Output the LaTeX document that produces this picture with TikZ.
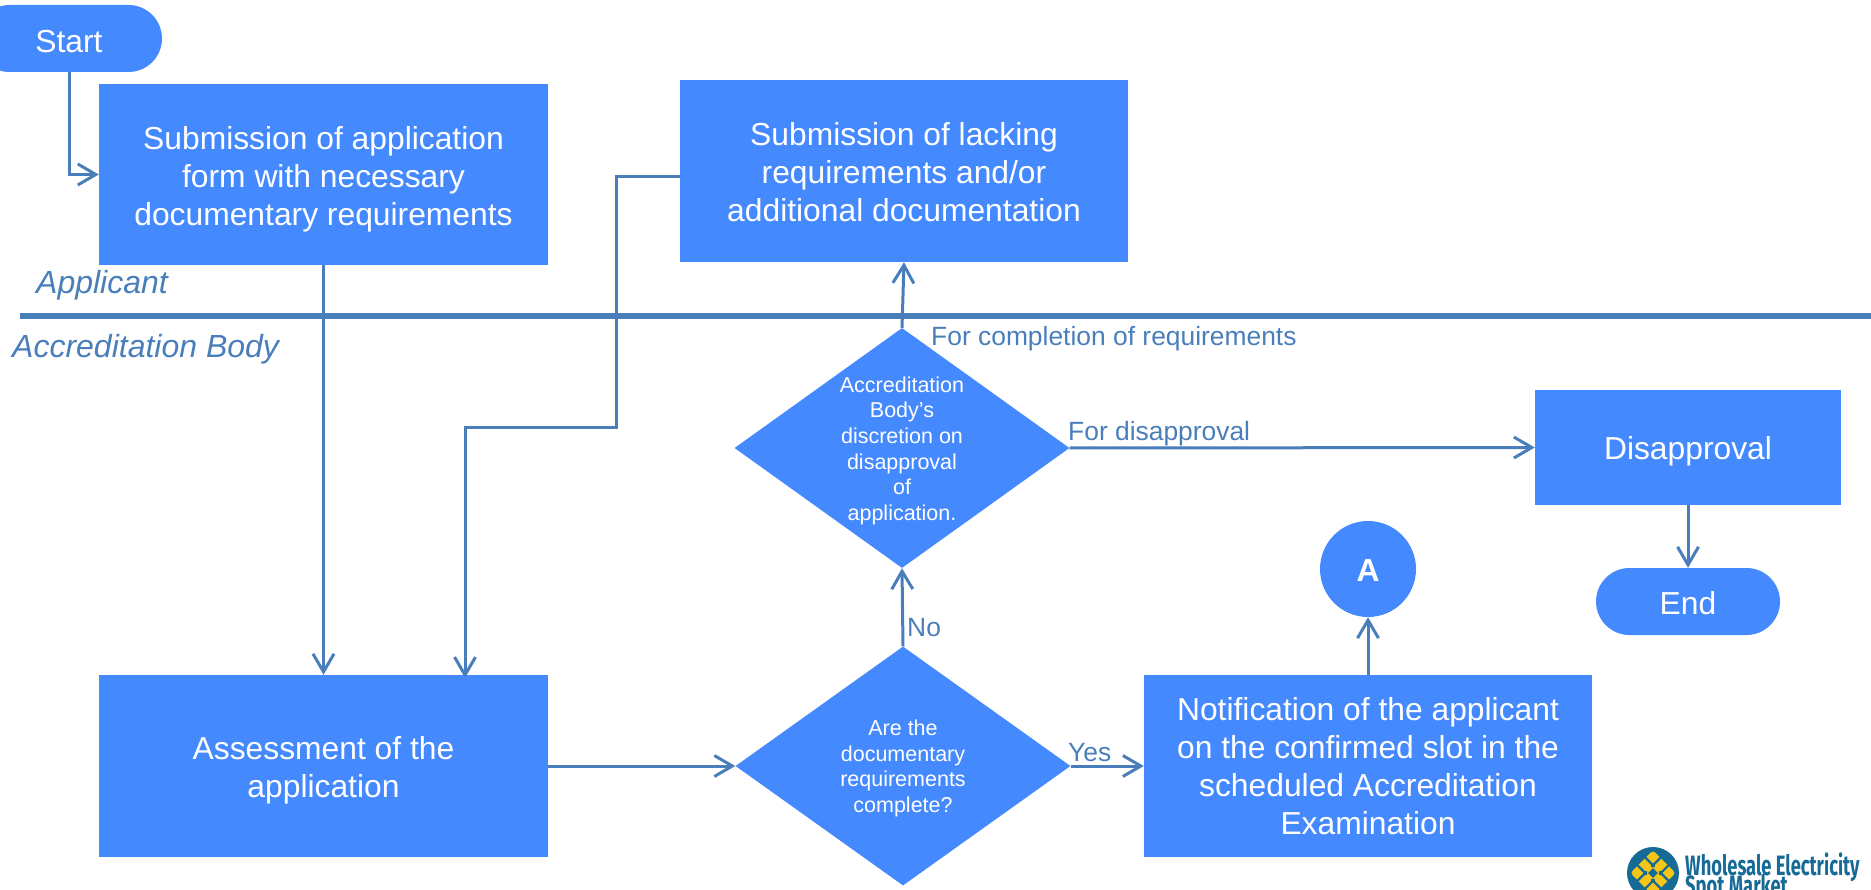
\documentclass[tikz,border=0pt]{standalone}
\usepackage{fontspec}
\setmainfont{Liberation Sans}
\newfontfamily\logofont{Fira Sans}
\usetikzlibrary{arrows.meta,shapes.geometric,shapes.misc}
\definecolor{boxblue}{HTML}{4589FF}
\definecolor{lineblue}{HTML}{4A7EBB}
\definecolor{logoblue}{HTML}{156A96}
\definecolor{logogold}{HTML}{F5C518}
\tikzset{
  x=1pt,y=-1pt,
  boxnode/.style={fill=boxblue,text=white,inner sep=0pt,align=center,font=\fontsize{31.8}{38}\selectfont},
  pillnode/.style={rounded rectangle,fill=boxblue,text=white,inner sep=0pt,font=\fontsize{31.8}{38}\selectfont},
  decision/.style={diamond,fill=boxblue,text=white,inner sep=0pt,aspect=1.4,font=\fontsize{21.5}{25.6}\selectfont},
  conn/.style={draw=lineblue,line width=3pt,-{Straight Barb[length=18pt,width=21pt,line width=3pt]}},
  lbl/.style={text=lineblue,inner sep=0pt,anchor=base west,font=\fontsize{26.4}{32}\selectfont},
  lane/.style={text=lineblue,inner sep=0pt,anchor=base west,font=\fontsize{32}{36}\selectfont\itshape},
}
\newcommand{\dtext}[2]{\smash{\makebox[0pt]{\raisebox{#1}{\parbox[c]{170pt}{\centering #2}}}}}
\newcommand{\btext}[2]{\smash{\makebox[0pt]{\raisebox{#1}{\begin{tabular}{@{}c@{}}#2\end{tabular}}}}}
\newcommand{\ltext}[2]{\raisebox{#1}[0pt][0pt]{#2}}
\begin{document}
\begin{tikzpicture}
\useasboundingbox (0,0) rectangle (1871,890);
\clip (0,0) rectangle (1871,890);
% lane rule
\coordinate (ruleL) at (20,316);
\coordinate (ruleR) at (1871,316);
\draw[lineblue,line width=6pt] (ruleL) -- (ruleR);
\node[lane] (applicant) at (36,294) {Applicant};
\node[lane] (body) at (12,358) {Accreditation Body};
% nodes
\node[pillnode,minimum width=186pt,minimum height=67pt] (start) at (69,38.5) {\ltext{-13.8pt}{Start}};
\node[boxnode,minimum width=449pt,minimum height=181pt] (box1) at (323.5,174.5) {\btext{-11.6pt}{Submission of application\\form with necessary\\documentary requirements}};
\node[boxnode,minimum width=448pt,minimum height=182pt] (box2) at (904,171) {\btext{-11.6pt}{Submission of lacking\\requirements and/or\\additional documentation}};
\node[boxnode,minimum width=449pt,minimum height=182pt] (assess) at (323.5,766) {\btext{-11.6pt}{Assessment of the\\application}};
\node[boxnode,minimum width=448pt,minimum height=182pt] (notify) at (1368,766) {\btext{-10.6pt}{Notification of the applicant\\on the confirmed slot in the\\scheduled Accreditation\\Examination}};
\node[boxnode,minimum width=306pt,minimum height=115pt] (disapp) at (1688,447.5) {\ltext{-11.6pt}{Disapproval}};
\node[pillnode,minimum width=184pt,minimum height=67pt] (end) at (1688,601.5) {\ltext{-12.6pt}{End}};
\node[circle,fill=boxblue,text=white,minimum size=96pt,inner sep=0pt,font=\fontsize{31.8}{36}\selectfont\bfseries] (A) at (1368,569) {\ltext{-12.6pt}{A}};
\node[decision,minimum width=335pt,minimum height=240pt] (d1) at (902,448) {\dtext{-8pt}{Accreditation\\Body’s\\discretion on\\disapproval\\of\\application.}};
\node[decision,minimum width=335pt,minimum height=239pt] (d2) at (903,766) {\dtext{-7.5pt}{Are the\\documentary\\requirements\\complete?}};
% connectors
\coordinate (b2out) at (680,177);
\coordinate (b2a) at (616,177);
\coordinate (b2b) at (616,427);
\coordinate (b2c) at (465,427);
\coordinate (b2d) at (465,678);
\draw[conn] (start.south) |- (box1.west);
\draw[conn] (box1.south) -- (assess.north);
\draw[conn] (b2out) -- (b2a) -- (b2b) -- (b2c) -- (b2d);
\draw[conn] (assess.east) -- (d2.west);
\draw[conn] (d2.east) -- (notify.west);
\draw[conn] (d2.north) -- (d1.south);
\draw[conn] (d1.north) -- (box2.south);
\draw[conn] (d1.east) -- (disapp.west);
\draw[conn] (notify.north) -- (A.south);
\draw[conn] (disapp.south) -- (end.north);
% labels
\node[lbl] (l1) at (931,346) {For completion of requirements};
\node[lbl] (l2) at (1068,440) {For disapproval};
\node[lbl] (l3) at (907,636) {No};
\node[lbl] (l4) at (1068,761) {Yes};
% logo
\fill[logoblue] (1653,873) circle (26);
\begin{scope}[shift={(1653,873)},rotate=45]
  \fill[logogold,rounded corners=3pt] (-16,-16) rectangle (16,16);
  \draw[logoblue,line width=2.2pt,line cap=round] (-16,-5.5) -- (-4,-5.5) (-16,5.5) -- (-4,5.5) (4,-5.5) -- (16,-5.5) (4,5.5) -- (16,5.5)
    (-5.5,-16) -- (-5.5,-4) (5.5,-16) -- (5.5,-4) (-5.5,4) -- (-5.5,16) (5.5,4) -- (5.5,16);
  \fill[logoblue] (-3.5,-3.5) rectangle (3.5,3.5);
\end{scope}
\node[inner sep=0pt,anchor=base west,text=logoblue,font=\logofont\bfseries\fontsize{28}{30}\selectfont] (logo1) at (1685,875) {\scalebox{0.655}[1]{Wholesale Electricity}};
\node[inner sep=0pt,anchor=base west,text=logoblue,font=\logofont\bfseries\fontsize{28}{30}\selectfont] (logo2) at (1685,895) {\scalebox{0.655}[1]{Spot Market}};
\end{tikzpicture}
\end{document}
